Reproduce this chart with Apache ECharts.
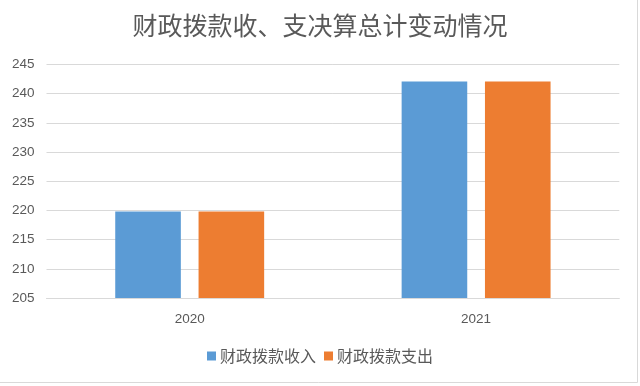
<!DOCTYPE html>
<html>
<head>
<meta charset="utf-8">
<script src="https://cdn.jsdelivr.net/npm/echarts@6/dist/echarts.min.js"></script>
<style>
html,body{margin:0;padding:0;background:#fff;}
#c{width:640px;height:386px;}
</style>
</head>
<body>
<div id="c"></div>
<script>
const titleText = '财政拨款收、支决算总计变动情况';
const categories = ['2020', '2021'];
const seriesNames = ['财政拨款收入', '财政拨款支出'];
const incomeValues = [219.8, 242.1];
const expenseValues = [219.8, 242.1];
const yMin = 205, yMax = 245, yStep = 5;

const chart = echarts.init(document.getElementById('c'), null, {renderer: 'canvas'});
const font = '"Microsoft YaHei", "Noto Sans CJK SC", sans-serif';
const numFont = '"Liberation Sans", Arial, sans-serif';
chart.setOption({
  animation: false,
  backgroundColor: '#fff',
  title: {
    text: titleText,
    left: 'center',
    top: 8,
    textStyle: {fontFamily: font, fontSize: 25, fontWeight: 'normal', color: '#595959'}
  },
  legend: {
    bottom: 17,
    left: 'center',
    itemWidth: 9,
    itemHeight: 9,
    itemGap: 8,
    icon: 'rect',
    textStyle: {fontFamily: font, fontSize: 16, color: '#595959', padding: [0,0,0,-1]},
    data: seriesNames
  },
  grid: {left: 46.5, right: 20.7, top: 64.5, bottom: 88, containLabel: false},
  xAxis: {
    type: 'category',
    data: categories,
    axisLine: {show: true, lineStyle: {color: '#d9d9d9', width: 1}},
    axisTick: {show: false},
    axisLabel: {color: '#595959', fontSize: 13.5, fontFamily: numFont, margin: 14}
  },
  yAxis: {
    type: 'value',
    min: yMin, max: yMax, interval: yStep,
    axisLine: {show: false},
    axisTick: {show: false},
    splitLine: {lineStyle: {color: '#d9d9d9', width: 1}},
    axisLabel: {color: '#595959', fontSize: 13.5, fontFamily: numFont, margin: 12}
  },
  series: [
    {name: seriesNames[0], type: 'bar', data: incomeValues, barGap: '27%', barCategoryGap: '48%',
     itemStyle: {color: '#5b9bd5'}},
    {name: seriesNames[1], type: 'bar', data: expenseValues, barGap: '27%', barCategoryGap: '48%',
     itemStyle: {color: '#ed7d31'}}
  ],
  graphic: [
    {type: 'line', shape: {x1: 637.5, y1: 0, x2: 637.5, y2: 382.5}, style: {stroke: '#d9d9d9', lineWidth: 1}},
    {type: 'line', shape: {x1: 0, y1: 382.5, x2: 637.5, y2: 382.5}, style: {stroke: '#d9d9d9', lineWidth: 1}}
  ]
});
</script>
</body>
</html>
